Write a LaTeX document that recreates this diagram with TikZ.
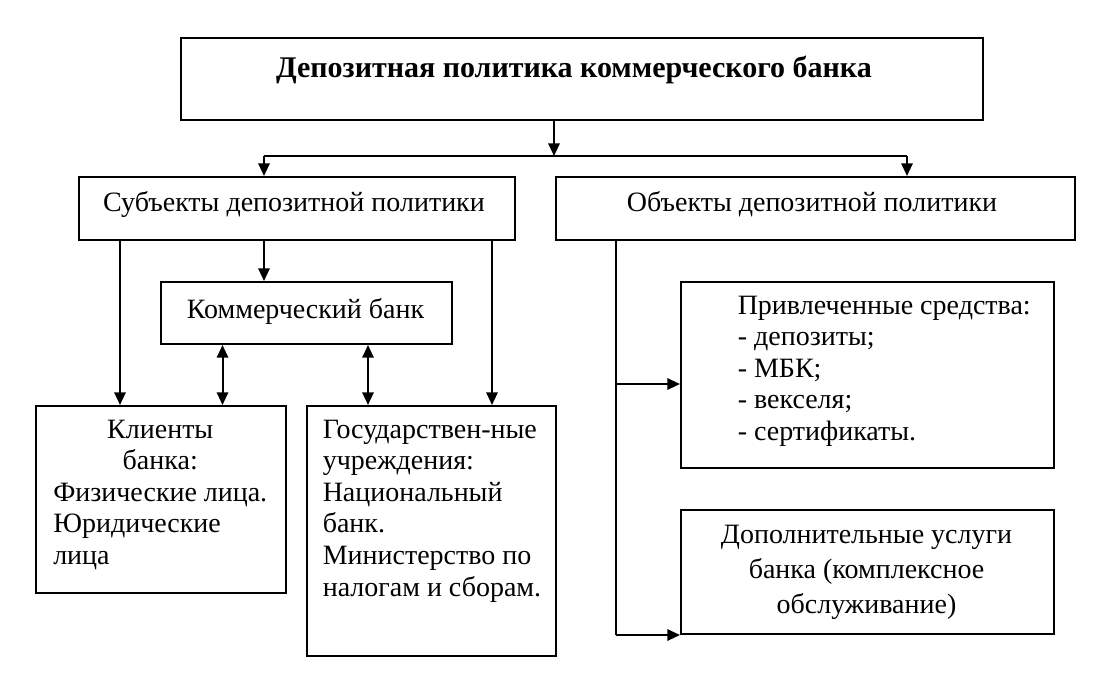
\documentclass[tikz,border=0pt]{standalone}
\usepackage{fontspec}
\setmainfont{Liberation Serif}
\usetikzlibrary{arrows.meta}
\begin{document}
\begin{tikzpicture}[x=0.75pt,y=-0.75pt,
  box/.style={draw, line width=1.5pt, inner sep=0pt, anchor=north west},
  txt/.style={inner sep=0pt, font=\fontsize{21}{23.7}\selectfont},
  ttl/.style={inner sep=0pt, font=\fontsize{22.5}{27}\selectfont\bfseries},
  con/.style={line width=1.5pt},
  arr/.style={line width=1.5pt, -{Triangle[length=9.5pt,width=8.5pt]}},
  darr/.style={line width=1.5pt, {Triangle[length=9.5pt,width=8.5pt]}-{Triangle[length=9.5pt,width=8.5pt]}}]
\useasboundingbox (0,0) rectangle (1120,672);
% boxes
\node[box, minimum width=601.5pt, minimum height=61.5pt] (top) at (180,37) {};
\node[box, minimum width=327pt, minimum height=47.25pt] (sub) at (78,176) {};
\node[box, minimum width=389.25pt, minimum height=47.25pt] (obj) at (555,176) {};
\node[box, minimum width=218.25pt, minimum height=46.5pt] (komm) at (160,281) {};
\node[box, minimum width=187.5pt, minimum height=140.25pt] (kl) at (35,405) {};
\node[box, minimum width=186.75pt, minimum height=187.5pt] (gos) at (306,405) {};
\node[box, minimum width=279.75pt, minimum height=139.5pt] (priv) at (680,281) {};
\node[box, minimum width=279.75pt, minimum height=93pt] (dop) at (680,509) {};
% texts
\node[ttl, anchor=base] (toptxt) at (574,77) {Депозитная политика коммерческого банка};
\node[txt, anchor=base] (subtxt) at (294,211) {Субъекты депозитной политики};
\node[txt, anchor=base] (objtxt) at (812,211) {Объекты депозитной политики};
\node[txt, anchor=base] (kommtxt) at (305.5,318) {Коммерческий банк};
\node[txt, anchor=base west] (kltxt) at (53,438) {\parbox[t]{160.5pt}{\centering Клиенты\\банка:\par\raggedright Физические лица.\\Юридические\\лица}};
\node[txt, anchor=base west] (gostxt) at (322.5,438) {\parbox[t]{180pt}{\raggedright Государствен-ные\\учреждения:\\Национальный\\банк.\\Министерство по\\налогам и сборам.}};
\node[txt, anchor=base west] (privtxt) at (737.5,314) {\parbox[t]{230pt}{\raggedright Привлеченные средства:\\- депозиты;\\- МБК;\\- векселя;\\- сертификаты.}};
\node[inner sep=0pt, font=\fontsize{21}{26.25}\selectfont, anchor=base] (doptxt) at (866.5,543) {\parbox[t]{260pt}{\centering Дополнительные услуги\\банка (комплексное\\обслуживание)}};
% helper coordinates
\coordinate (j) at (554,156);
\coordinate (jl) at (264,156);
\coordinate (jr) at (907,156);
\coordinate (xa) at (120,0);
\coordinate (xb) at (222.5,0);
\coordinate (xc) at (368,0);
\coordinate (xd) at (492,0);
\coordinate (xe) at (616,0);
\coordinate (ya) at (0,384);
% connectors
\draw[arr] (top.south -| j) -- (j);
\draw[con] (jl) -- (jr);
\draw[arr] (jl) -- (sub.north -| jl);
\draw[arr] (jr) -- (obj.north -| jr);
\draw[arr] (sub.south -| jl) -- (komm.north -| jl);
\draw[arr] (sub.south -| xa) -- (kl.north -| xa);
\draw[arr] (sub.south -| xd) -- (gos.north -| xd);
\draw[darr] (komm.south -| xb) -- (kl.north -| xb);
\draw[darr] (komm.south -| xc) -- (gos.north -| xc);
\draw[con] (obj.south -| xe) -- (xe |- dop.south);
\draw[arr] (xe |- ya) -- (priv.west |- ya);
\draw[arr] (xe |- dop.south) -- (dop.south west);
\end{tikzpicture}
\end{document}
